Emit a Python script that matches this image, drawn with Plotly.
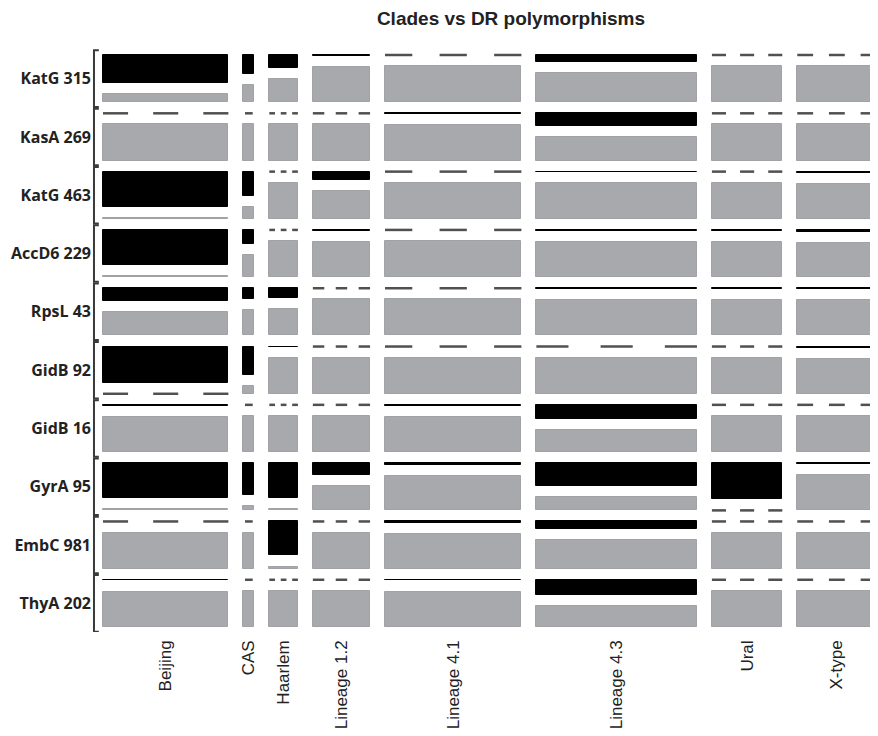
import plotly.graph_objects as go

# ---------------- data ----------------
clades = ["Beijing", "CAS", "Haarlem", "Lineage 1.2", "Lineage 4.1",
          "Lineage 4.3", "Ural", "X-type"]
clade_sizes = [57, 5, 13, 26, 62, 73, 32, 36]

mutations = ["KatG 315", "KasA 269", "KatG 463", "AccD6 229", "RpsL 43",
             "GidB 92", "GidB 16", "GyrA 95", "EmbC 981", "ThyA 202"]

# fraction of isolates carrying the mutation (per clade, in mutation order)
frac_beijing = [0.78, 0.0, 0.98, 0.97, 0.36, 1.0, 0.02, 0.97, 0.0, 0.02]
frac_cas     = [0.53, 0.0, 0.67, 0.40, 0.30, 0.78, 0.0, 0.88, 0.0, 0.0]
frac_haarlem = [0.36, 0.0, 0.0, 0.0, 0.28, 0.02, 0.0, 0.96, 0.94, 0.0]
frac_l12     = [0.02, 0.0, 0.22, 0.02, 0.0, 0.0, 0.0, 0.33, 0.0, 0.0]
frac_l41     = [0.0, 0.02, 0.0, 0.0, 0.0, 0.0, 0.02, 0.04, 0.04, 0.02]
frac_l43     = [0.20, 0.35, 0.02, 0.02, 0.02, 0.0, 0.40, 0.63, 0.22, 0.43]
frac_ural    = [0.0, 0.0, 0.0, 0.02, 0.03, 0.0, 0.0, 1.0, 0.0, 0.0]
frac_xtype   = [0.0, 0.0, 0.03, 0.05, 0.02, 0.03, 0.0, 0.02, 0.0, 0.0]

fractions = [frac_beijing, frac_cas, frac_haarlem, frac_l12, frac_l41,
             frac_l43, frac_ural, frac_xtype]

# ---------------- layout constants ----------------
XGAP = 6.8      # gap between clade columns (x units)
YGAP = 0.306    # gap between tiles (y units; a mutation group has height 1)
BLACK = "#000000"
GREY = "#a7a9ac"
DASH_COL = "#505050"

# column positions
col_left = []
pos = 0.0
for n in clade_sizes:
    col_left.append(pos)
    pos += n + XGAP
col_center = [l + n / 2 for l, n in zip(col_left, clade_sizes)]

group_top = [i * (1 + 2 * YGAP) for i in range(len(mutations))]
group_bottom = [t + 1 + YGAP for t in group_top]
group_center = [(t + b) / 2 for t, b in zip(group_top, group_bottom)]

# ---------------- tiles ----------------
bx, bw, bb, bh = [], [], [], []
gx, gw, gb, gh = [], [], [], []
dash_x, dash_y = [], []


def add_dash(x0, w, y):
    if w < 8:
        dash_x.extend([x0 + w * 0.15, x0 + w * 0.85, None])
        dash_y.extend([y, y, None])
        return
    for k in (0, 2, 4):
        dash_x.extend([x0 + k * w / 5, x0 + (k + 1) * w / 5, None])
        dash_y.extend([y, y, None])


for ci, (l, n) in enumerate(zip(col_left, clade_sizes)):
    for mi, p in enumerate(fractions[ci]):
        top = group_top[mi]
        if p > 0:
            bx.append(l + n / 2); bw.append(n); bb.append(top); bh.append(p)
        else:
            add_dash(l, n, top)
        if p < 1:
            gx.append(l + n / 2); gw.append(n); gb.append(top + p + YGAP); gh.append(1 - p)
        else:
            add_dash(l, n, group_bottom[mi])

fig = go.Figure()
fig.add_trace(go.Bar(x=bx, y=bh, base=bb, width=bw,
                     marker=dict(color=BLACK, line=dict(color=BLACK, width=1)),
                     hoverinfo="skip"))
fig.add_trace(go.Bar(x=gx, y=gh, base=gb, width=gw,
                     marker=dict(color=GREY, line=dict(color="#a0a2a5", width=1)),
                     hoverinfo="skip"))
fig.add_trace(go.Scatter(x=dash_x, y=dash_y, mode="lines",
                         line=dict(color=DASH_COL, width=2.5),
                         hoverinfo="skip", connectgaps=False))

# brackets on the left of each mutation group
brx, bry = [], []
xv, xh = -4.1, -1.9
for t, b in zip(group_top, group_bottom):
    y0 = t - 0.42 * YGAP
    y1 = b + 0.42 * YGAP
    brx.extend([xh, xv, xv, xh, None])
    bry.extend([y0, y0, y1, y1, None])
fig.add_trace(go.Scatter(x=brx, y=bry, mode="lines", line=dict(color="#3a3a3a", width=2),
                         hoverinfo="skip"))

W, H = 870, 728   # page body adds an 8px margin
fig.update_layout(
    width=W, height=H,
    margin=dict(l=84, r=0, t=37, b=104),
    plot_bgcolor="white", paper_bgcolor="white",
    showlegend=False, barmode="overlay", bargap=0,
    title=dict(text="Clades vs DR polymorphisms", x=503 / W, xanchor="center",
               y=1 - 10 / H, yanchor="middle", automargin=False,
               font=dict(family="Liberation Sans", size=19, color="#222222", weight="bold")),
)
fig.update_xaxes(range=[-5.0, 352.3], tickmode="array", tickvals=col_center, ticktext=clades,
                 tickangle=-90, showgrid=False, zeroline=False, showline=False, ticks="",
                 ticklabelstandoff=4, automargin=False,
                 tickfont=dict(family="Liberation Sans", size=17, color="#222222"))
fig.update_yaxes(range=[15.952, -0.2765], tickmode="array", tickvals=group_center, ticktext=mutations,
                 showgrid=False, zeroline=False, showline=False, ticks="",
                 ticklabelstandoff=0, automargin=False,
                 tickfont=dict(family="Open Sans", size=16, color="#222222", weight="bold"))

fig.write_html("out.html")
